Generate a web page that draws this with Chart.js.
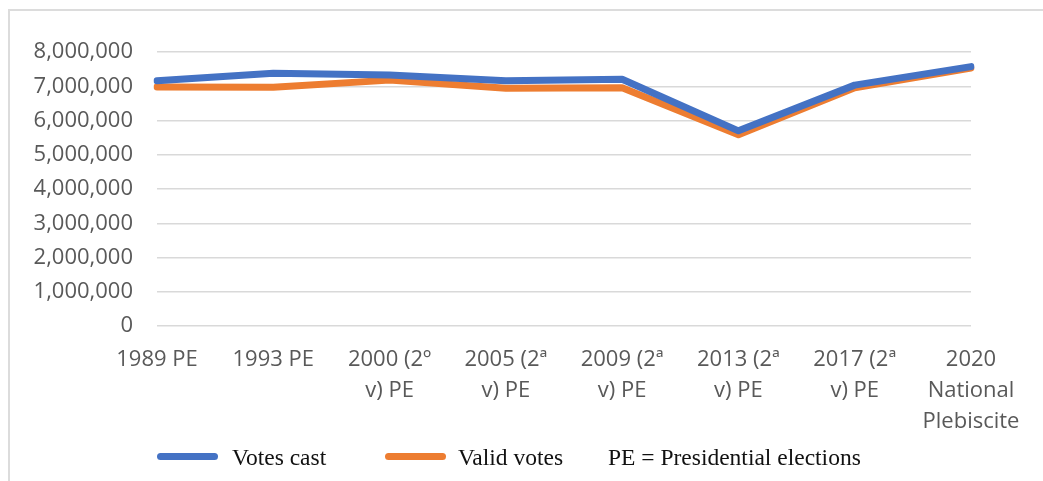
<!DOCTYPE html>
<html>
<head>
<meta charset="utf-8">
<script src="https://cdn.jsdelivr.net/npm/chart.js@4"></script>
<style>
  html, body { margin: 0; padding: 0; background: #fff; }
  #wrap { position: relative; width: 1043px; height: 481px; overflow: hidden; }
  #frame { position: absolute; left: 8px; top: 9px; width: 1100px; height: 500px;
           border-top: 2px solid #dcdcdc; border-left: 2px solid #dcdcdc; }
  canvas { position: absolute; left: 0; top: 0; }
  .lg { position: absolute; font-family: "Liberation Serif", "Times New Roman", serif;
        font-size: 23.5px; line-height: 30px; color: #111; top: 442px; white-space: nowrap; }
  .sw { position: absolute; height: 7px; border-radius: 4px; top: 453px; }
</style>
</head>
<body>
<div id="wrap">
  <div id="frame"></div>
  <canvas id="c" width="1043" height="481"></canvas>
  <div class="sw" style="left:157px;width:61px;background:#4472C4"></div>
  <div class="lg" style="left:232px">Votes cast</div>
  <div class="sw" style="left:385px;width:61px;background:#ED7D31"></div>
  <div class="lg" style="left:458px">Valid votes</div>
  <div class="lg" style="left:608px">PE = Presidential elections</div>
</div>
<script>
const categories = [
  ["1989 PE"],
  ["1993 PE"],
  ["2000 (2º", "v) PE"],
  ["2005 (2ª", "v) PE"],
  ["2009 (2ª", "v) PE"],
  ["2013 (2ª", "v) PE"],
  ["2017 (2ª", "v) PE"],
  ["2020", "National", "Plebiscite"]
];
const votesCast  = [7158727, 7376691, 7326753, 7162345, 7203371, 5697751, 7032878, 7573914];
const validVotes = [6979859, 6968950, 7178727, 6942041, 6958972, 5582931, 6956481, 7534750];
const yTicks = [0, 1000000, 2000000, 3000000, 4000000, 5000000, 6000000, 7000000, 8000000];

new Chart(document.getElementById('c'), {
  type: 'line',
  data: {
    labels: categories,
    datasets: [
      { label: 'Votes cast', data: votesCast, borderColor: '#4472C4', backgroundColor: '#4472C4',
        borderWidth: 7, pointRadius: 0, tension: 0, borderJoinStyle: 'round', borderCapStyle: 'round' },
      { label: 'Valid votes', data: validVotes, borderColor: '#ED7D31', backgroundColor: '#ED7D31',
        borderWidth: 7, pointRadius: 0, tension: 0, borderJoinStyle: 'round', borderCapStyle: 'round' }
    ]
  },
  options: {
    responsive: false,
    animation: false,
    layout: { padding: { left: 0, right: 72, top: 52, bottom: 35 } },
    plugins: { legend: { display: false }, tooltip: { enabled: false } },
    scales: {
      x: {
        offset: false,
        grid: { display: false, drawTicks: false },
        border: { display: false },
        ticks: { maxRotation: 0, autoSkip: false, padding: 18, color: '#595959',
                 font: { family: '"Open Sans", sans-serif', size: 22, lineHeight: 1.41 } },
        afterFit: s => { s.height = 120; }
      },
      y: {
        min: 0, max: 8000000,
        afterBuildTicks: s => { s.ticks = yTicks.map(v => ({ value: v })); },
        grid: { color: '#d9d9d9', lineWidth: 1.5, drawTicks: false },
        border: { display: false },
        ticks: { padding: 24, color: '#595959',
                 font: { family: '"Open Sans", sans-serif', size: 22 },
                 callback: v => v.toLocaleString('en-US') },
        afterFit: s => { s.width = 157; }
      }
    }
  }
});
</script>
</body>
</html>
